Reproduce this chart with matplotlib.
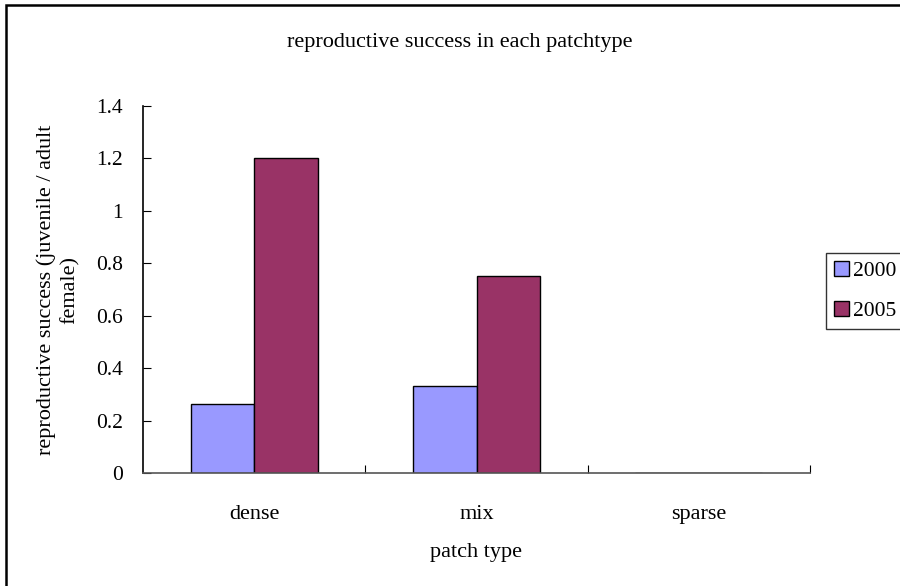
import matplotlib.pyplot as plt
import numpy as np
from matplotlib.patches import Rectangle

patch_types = ['dense', 'mix', 'sparse']
years = ['2000', '2005']
success_2000 = [0.263, 0.333, 0.0]
success_2005 = [1.2, 0.75, 0.0]
yticks = [0, 0.2, 0.4, 0.6, 0.8, 1, 1.2, 1.4]
ytick_labels = ['0', '0.2', '0.4', '0.6', '0.8', '1', '1.2', '1.4']

colors = ['#9999FF', '#993366']

plt.rcParams['font.family'] = ['Liberation Serif', 'DejaVu Serif']

fig = plt.figure(figsize=(9, 5.86), dpi=100)
# chart-area border running off the right and bottom edges
fig.patches.append(Rectangle((6 / 900, -0.05), 1.2, 1 - 5 / 586 + 0.05,
                             transform=fig.transFigure, fill=False,
                             edgecolor='black', linewidth=1.8))

ax = fig.add_axes([143 / 900, 1 - 473 / 586, 667 / 900, 367 / 586])
x = np.arange(len(patch_types))
w = 1 / 3.5
ax.bar(x - w / 2, success_2000, w, color=colors[0], edgecolor='black',
       linewidth=1, label=years[0])
ax.bar(x + w / 2, success_2005, w, color=colors[1], edgecolor='black',
       linewidth=1, label=years[1])

ax.set_xlim(-0.5, 2.5)
ax.set_ylim(0, 1.4)
ax.set_yticks(yticks)
ax.set_yticklabels(ytick_labels)
ax.set_xticks([0.5, 1.5, 2.5])
ax.set_xticklabels([])
ax.set_xticks(x, minor=True)
ax.set_xticklabels(patch_types, minor=True)
ax.tick_params(axis='x', which='minor', length=0, pad=23, labelsize=16)
ax.tick_params(axis='x', which='major', direction='in', length=6)
ax.tick_params(axis='y', direction='in', length=6, pad=14.5, labelsize=15.5)
for s in ['top', 'right']:
    ax.spines[s].set_visible(False)
ax.spines['left'].set_linewidth(1.2)
ax.spines['bottom'].set_linewidth(1.2)
ax.spines['bottom'].set_color('#555555')

fig.text(460 / 900, 1 - 42 / 586, 'reproductive success in each patchtype',
         ha='center', va='center', fontsize=16)
fig.text(476 / 900, 1 - 553 / 586, 'patch type', ha='center', va='center',
         fontsize=16)
fig.text(58 / 900, 1 - 290 / 586,
         'reproductive success (juvenile / adult\nfemale)',
         rotation=90, ha='center', va='center', fontsize=16,
         multialignment='center', linespacing=1.35)

leg = fig.legend(loc='upper left', bbox_to_anchor=(826 / 900, 1 - 253 / 586),
                 fontsize=15.5, frameon=True, fancybox=False, handlelength=0.7,
                 handleheight=0.7, handletextpad=0.2, borderpad=0.35,
                 labelspacing=0.95, borderaxespad=0)
leg.get_frame().set_edgecolor('black')
leg.get_frame().set_linewidth(1)

fig.savefig('out.png', dpi=100)
